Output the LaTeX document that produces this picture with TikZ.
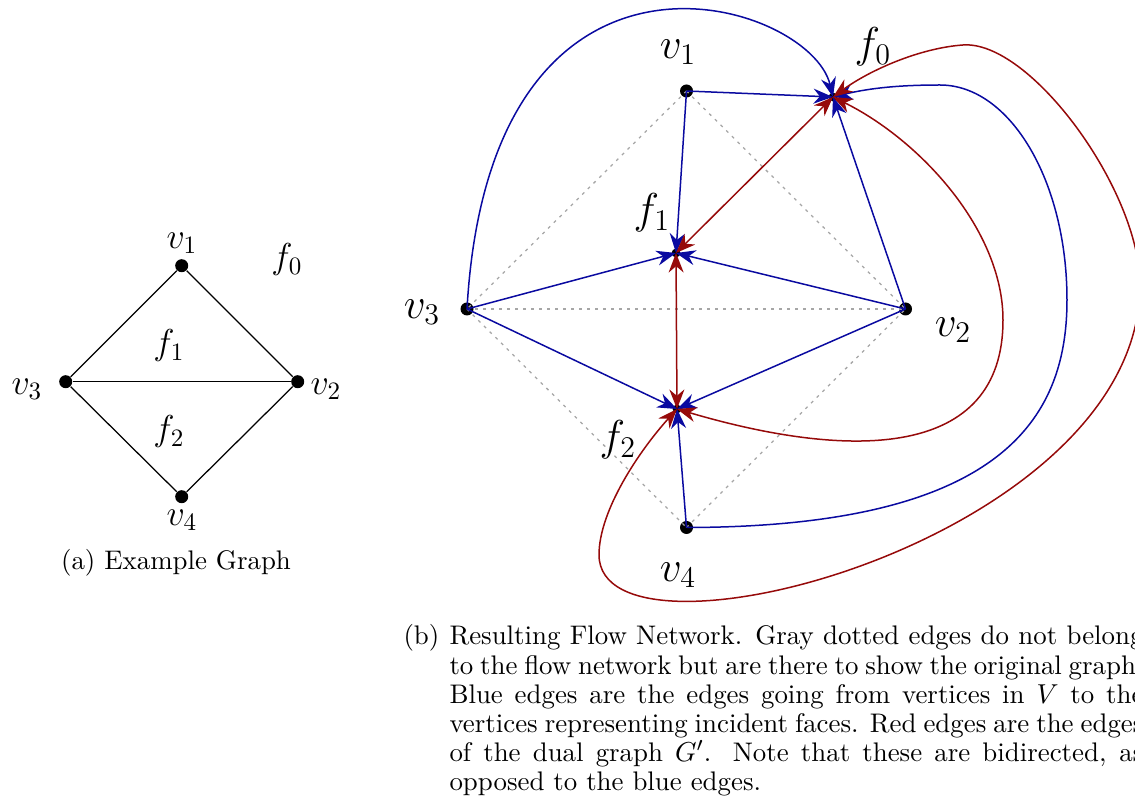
\documentclass[tikz,border=0pt]{standalone}
\usetikzlibrary{arrows.meta}
\definecolor{fblue}{RGB}{10,10,160}
\definecolor{fred}{RGB}{150,10,10}
\begin{document}
\begin{tikzpicture}[x=0.4pt,y=-0.4pt,
  vdot/.style={circle,fill=black,inner sep=0pt,minimum size=5.2pt},
  fdot/.style={circle,fill=black,inner sep=0pt,minimum size=3.5pt},
  lbla/.style={font=\fontsize{14.5}{17}\selectfont,inner sep=0pt},
  lblb/.style={font=\fontsize{16.5}{19}\selectfont,inner sep=0pt},
  captext/.style={font=\fontsize{10.75}{11.7}\selectfont,inner sep=0pt},
  capline/.style={captext,anchor=base west},
  orig/.style={gray!70,line width=0.5pt,dash pattern=on 1.2pt off 2pt},
  tip/.tip={Stealth[length=7.8pt,width=6pt]},
  bedge/.style={fblue,line width=0.6pt,-tip},
  redge/.style={fred,line width=0.6pt,tip-tip},
  aedge/.style={black,line width=0.5pt}]
\useasboundingbox (0,0) rectangle (1135,812);
\clip (0,0) rectangle (1135,812);

% ---------- (a) Example graph ----------
\node[vdot] (a1) at (181.7,265.7) {};
\node[vdot] (a2) at (297.7,381.7) {};
\node[vdot] (a3) at (65.7,381.7) {};
\node[vdot] (a4) at (181.7,496.7) {};
\draw[aedge] (a1) -- (a2);
\draw[aedge] (a1) -- (a3);
\draw[aedge] (a3) -- (a2);
\draw[aedge] (a3) -- (a4);
\draw[aedge] (a4) -- (a2);
\node[lbla] (la1) at (182,243) {$v_1$};
\node[lbla] (la2) at (326,389) {$v_2$};
\node[lbla] (la3) at (27,389) {$v_3$};
\node[lbla] (la4) at (182,520) {$v_4$};
\node[lbla] (lfa0) at (287,260) {$f_0$};
\node[lbla] (lfa1) at (169,346) {$f_1$};
\node[lbla] (lfa2) at (169,432) {$f_2$};
\node[captext] (capa) at (176,563) {(a) Example Graph};

% ---------- (b) Flow network ----------
\node[vdot] (v1) at (686.5,91) {};
\node[vdot] (v2) at (905.5,309) {};
\node[vdot] (v3) at (467,309) {};
\node[vdot] (v4) at (686.5,527.5) {};
\node[fdot] (f0) at (833,97) {};
\node[fdot] (f1) at (676,253) {};
\node[fdot] (f2) at (677,409) {};

\draw[orig] (v1.center) -- (v2.center);
\draw[orig] (v1.center) -- (v3.center);
\draw[orig] (v3.center) -- (v2.center);
\draw[orig] (v3.center) -- (v4.center);
\draw[orig] (v4.center) -- (v2.center);

% blue edges: vertices -> incident faces
\draw[bedge] (v1.center) -- (f1.center);
\draw[bedge] (v1.center) -- (f0.center);
\draw[bedge] (v2.center) -- (f0.center);
\draw[bedge] (v2.center) -- (f1.center);
\draw[bedge] (v2.center) -- (f2.center);
\draw[bedge] (v3.center) -- (f1.center);
\draw[bedge] (v3.center) -- (f2.center);
\draw[bedge] (v4.center) -- (f2.center);
\draw[bedge] (v3.center) .. controls (490,-100) and (810,0) .. (f0.center);
\draw[bedge] (v4.center) .. controls (1000,527) and (1067,420) .. (1067,300)
   .. controls (1067,181) and (1010,85) .. (940,85)
   .. controls (900,85) and (870,88) .. (f0.center);

% red edges: dual graph, bidirected
\draw[redge] (f0.center) -- (f1.center);
\draw[redge] (f1.center) -- (f2.center);
\draw[redge] (f2.center) .. controls (850,460) and (1003,460) .. (1003,320)
   .. controls (1003,230) and (920,140) .. (f0.center);
\draw[redge] (f2.center) .. controls (640,450) and (599,510) .. (599,555)
   .. controls (600,680) and (1140,540) .. (1140,285)
   .. controls (1140,190) and (1030,40) .. (963,45)
   .. controls (920,48) and (870,70) .. (f0.center);

\node[lblb] (lv1) at (678,52) {$v_1$};
\node[lblb] (lv2) at (953,330) {$v_2$};
\node[lblb] (lv3) at (422,312) {$v_3$};
\node[lblb] (lv4) at (678,575) {$v_4$};
\node[lblb] (lf0) at (873,47) {$f_0$};
\node[lblb] (lf1) at (652,213) {$f_1$};
\node[lblb] (lf2) at (618,440) {$f_2$};

% caption (b), justified lines with hanging label
\node[capline] (capblabel) at (403,645) {(b)};
\node[capline] (capb1) at (449,645) {\makebox[277.6pt][s]{Resulting Flow Network. Gray dotted edges do not belong}};
\node[capline] (capb2) at (449,674.2) {\makebox[277.6pt][s]{to the flow network but are there to show the original graph.}};
\node[capline] (capb3) at (449,703.4) {\makebox[277.6pt][s]{Blue edges are the edges going from vertices in $V$ to the}};
\node[capline] (capb4) at (449,732.6) {\makebox[277.6pt][s]{vertices representing incident faces. Red edges are the edges}};
\node[capline] (capb5) at (449,761.8) {\makebox[277.6pt][s]{of the dual graph $G'$. Note that these are bidirected, as}};
\node[capline] (capb6) at (449,791) {opposed to the blue edges.};
\end{tikzpicture}
\end{document}
